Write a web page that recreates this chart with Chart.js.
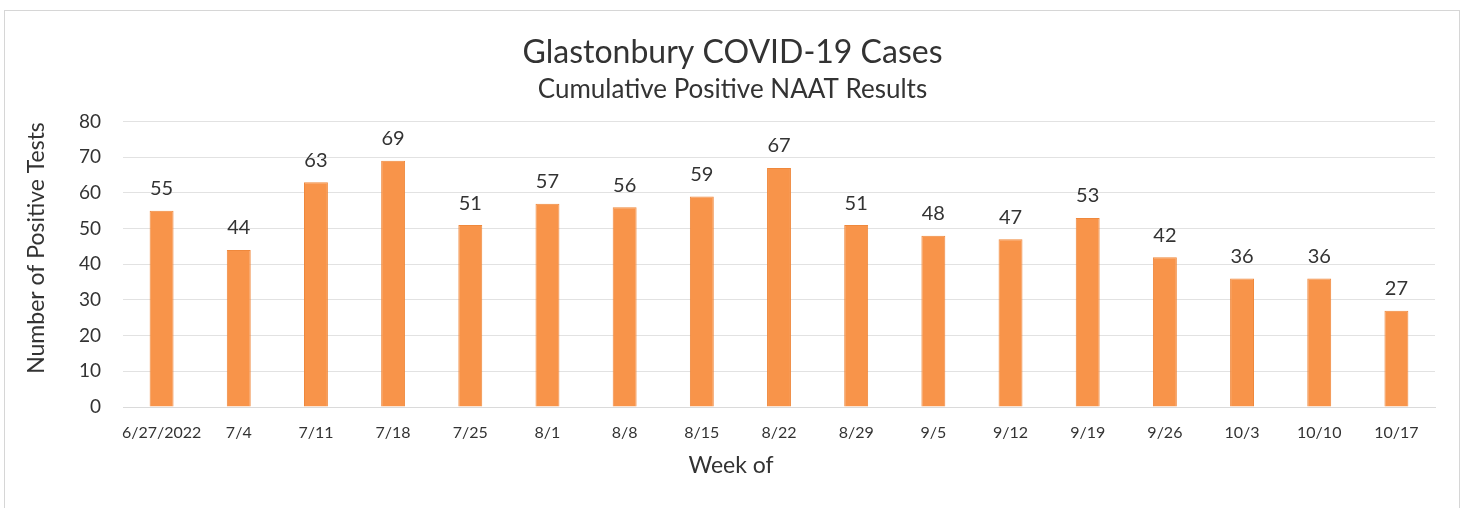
<!DOCTYPE html>
<html>
<head>
<meta charset="utf-8">
<script src="https://cdn.jsdelivr.net/npm/chart.js@4/dist/chart.umd.min.js"></script>
<style>
  html, body { margin: 0; padding: 0; background: #fff; }
  #wrap { position: relative; width: 1465px; height: 508px; }
</style>
</head>
<body>
<div id="wrap"><canvas id="chart"></canvas></div>
<script>
// Weekly positive NAAT results
const weeks = ["6/27/2022", "7/4", "7/11", "7/18", "7/25", "8/1", "8/8", "8/15", "8/22",
               "8/29", "9/5", "9/12", "9/19", "9/26", "10/3", "10/10", "10/17"];
const positives = [55, 44, 63, 69, 51, 57, 56, 59, 67, 51, 48, 47, 53, 42, 36, 36, 27];
const yTicks = [0, 10, 20, 30, 40, 50, 60, 70, 80];
const yTitle = "Number of Positive Tests";
const xTitle = "Week of";

const FONT = "Lato, 'Open Sans', sans-serif";
const TEXT = "#333333";

// ---------------------------------------------------------
// Outer chart border + axis titles (placed like the original:
// the spreadsheet centres them on the whole frame, not the plot)
// ---------------------------------------------------------
const frame = {
  id: "frame",
  beforeDraw(chart) {
    const ctx = chart.ctx;
    ctx.save();
    ctx.strokeStyle = "#d6d6d6";
    ctx.lineWidth = 1;
    ctx.strokeRect(4.5, 10.5, 1455, 520);
    ctx.restore();
  },
  afterDraw(chart) {
    const ctx = chart.ctx;
    ctx.save();
    ctx.font = "23px " + FONT;
    ctx.fillStyle = TEXT;
    ctx.textAlign = "center";
    ctx.textBaseline = "middle";
    ctx.fillText(xTitle, 731, 466);
    ctx.translate(37, 248);
    ctx.rotate(-Math.PI / 2);
    ctx.fillText(yTitle, 0, 0);
    ctx.restore();
  }
};

// ---------------------------------------------------------
// Value labels above each bar
// ---------------------------------------------------------
const barLabels = {
  id: "barLabels",
  afterDatasetsDraw(chart) {
    const ctx = chart.ctx;
    const meta = chart.getDatasetMeta(0);
    ctx.save();
    ctx.font = "20px " + FONT;
    ctx.fillStyle = TEXT;
    ctx.textAlign = "center";
    ctx.textBaseline = "middle";
    meta.data.forEach((bar, i) => {
      ctx.fillText(positives[i], bar.x, bar.y - 22);
    });
    ctx.restore();
  }
};

new Chart(document.getElementById("chart"), {
  type: "bar",
  data: {
    labels: weeks,
    datasets: [{
      data: positives,
      backgroundColor: "#F8944A",
      borderColor: "#EF883C",
      borderWidth: 1,
      barPercentage: 0.31,
      categoryPercentage: 1
    }]
  },
  options: {
    responsive: true,
    maintainAspectRatio: false,
    animation: false,
    layout: { padding: 0 },
    plugins: {
      legend: { display: false },
      tooltip: { enabled: false },
      title: {
        display: true,
        text: "Glastonbury COVID-19 Cases",
        color: TEXT,
        font: { family: FONT, size: 32, weight: "normal" },
        padding: { top: 33, bottom: 3 }
      },
      subtitle: {
        display: true,
        text: "Cumulative Positive NAAT Results",
        color: TEXT,
        font: { family: FONT, size: 26, weight: "normal" },
        padding: { top: 0, bottom: 16 }
      }
    },
    scales: {
      x: {
        grid: { display: false, drawTicks: false },
        border: { color: "#dadada" },
        ticks: { color: TEXT, font: { family: FONT, size: 16 }, padding: 16, maxRotation: 0, autoSkip: false },
        afterFit(scale) { scale.height = 101; }
      },
      y: {
        min: 0,
        max: 80,
        afterBuildTicks(scale) { scale.ticks = yTicks.map(v => ({ value: v })); },
        grid: { color: "#e2e2e2", drawTicks: false },
        border: { display: false },
        ticks: { color: TEXT, font: { family: FONT, size: 19 }, padding: 22 },
        afterFit(scale) { scale.width = 123; }
      },
      // empty right-hand spacer so the plot ends where the original does
      yRight: {
        position: "right",
        min: 0,
        max: 80,
        grid: { display: false },
        border: { display: false },
        ticks: { display: false },
        afterFit(scale) { scale.width = 30; }
      }
    }
  },
  plugins: [frame, barLabels]
});
</script>
</body>
</html>
